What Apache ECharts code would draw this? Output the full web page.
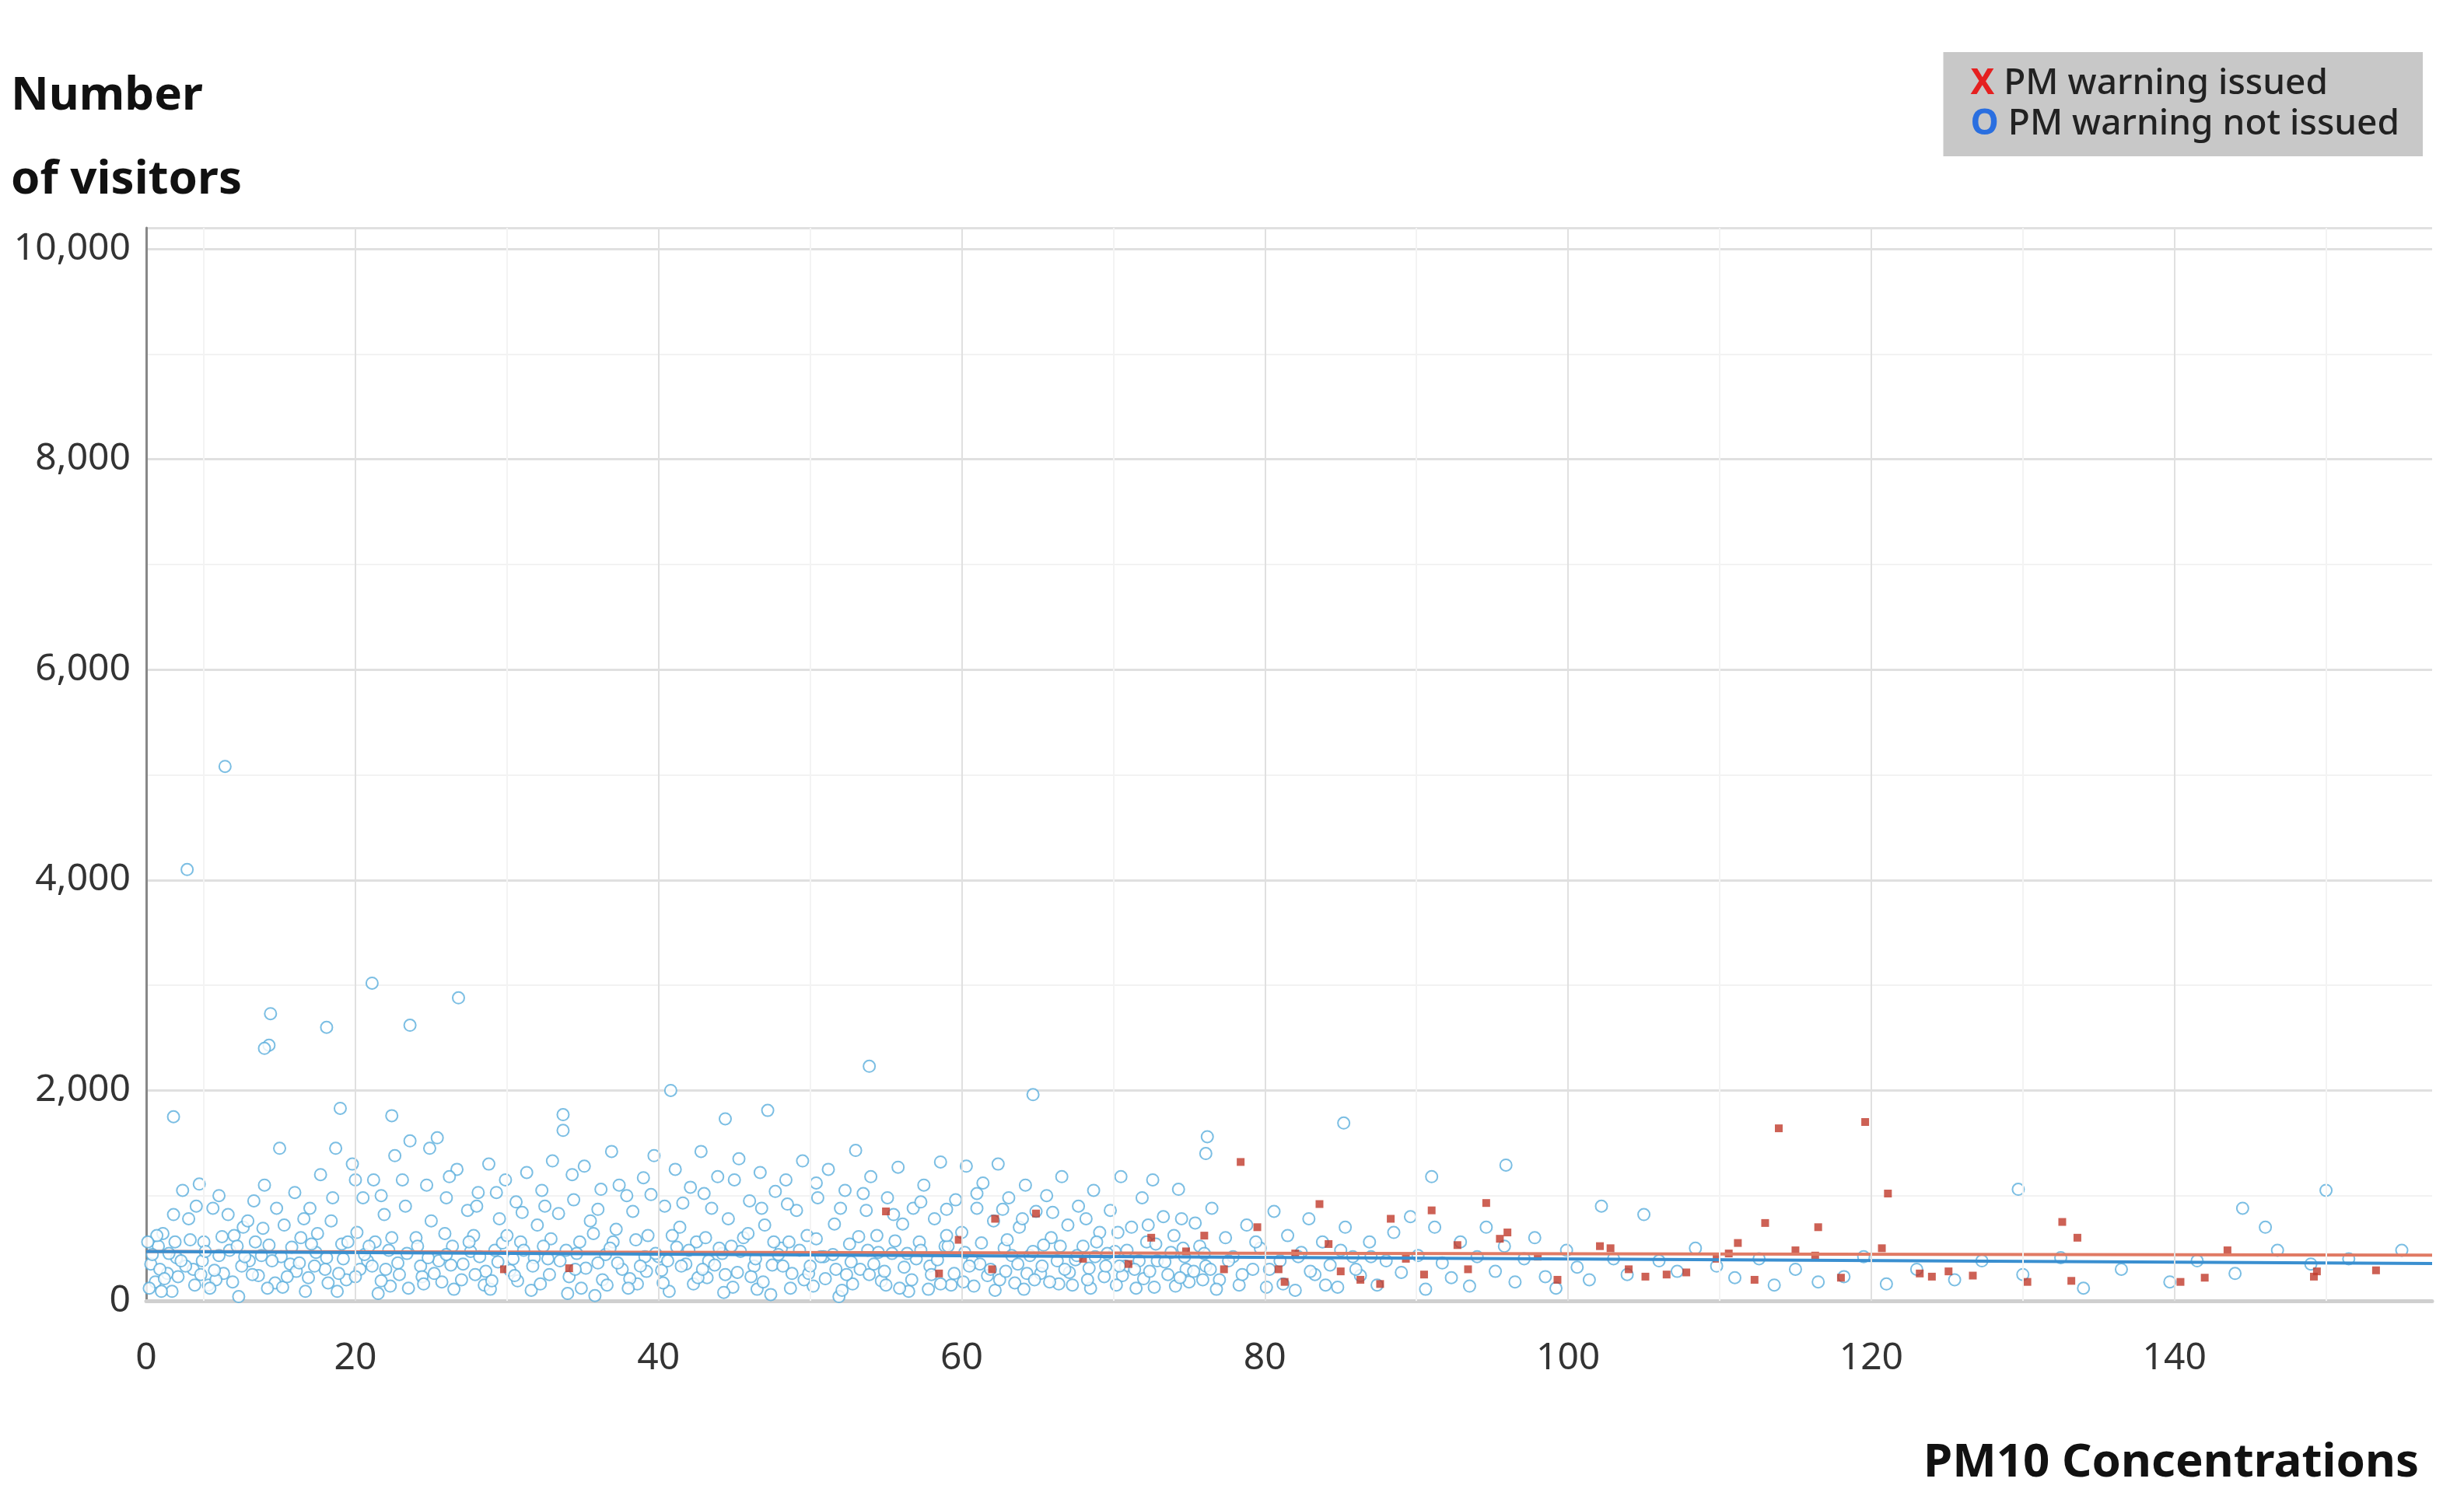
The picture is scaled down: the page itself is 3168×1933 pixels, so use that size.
<!DOCTYPE html>
<html>
<head>
<meta charset="utf-8">
<script src="https://cdn.jsdelivr.net/npm/echarts@6/dist/echarts.min.js"></script>
</head>
<body style="margin:0;background:#fff">
<div id="container" style="width:3168px;height:1933px"></div>
<script>
// PM10 concentration vs. number of visitors
const xTickLabels = [6.2, 20, 40, 60, 80, 100, 120, 140];
const majorGrid = [20, 40, 60, 80, 100, 120, 140];
const minorGrid = [10, 30, 50, 70, 90, 110, 130, 150];

// days without PM warning
const notIssued = [
  [11.4,5080],[8.9,4100],[14.4,2730],[14.3,2430],[14.0,2400],[18.1,2600],[21.1,3020],[23.6,2620],[26.8,2880],
  [8.0,1750],[19.0,1830],[22.4,1760],[33.7,1770],[40.8,2000],[44.4,1730],[47.2,1810],[53.9,2230],[64.7,1960],
  [85.2,1690],[76.2,1560],[76.1,1400],[91.0,1180],[95.9,1290],[129.7,1060],[150.0,1050],[144.5,880],[146.0,700],
  [6.5,350],[6.8,180],[7.0,520],[7.3,640],[7.6,260],[7.9,90],[8.2,410],[8.6,1050],[9.0,780],[9.3,300],[9.7,1110],
  [10.0,560],[10.3,150],[10.6,880],[11.0,430],[11.3,260],[11.6,820],[12.0,620],[12.3,40],[12.6,700],[13.0,380],
  [13.3,950],[13.6,240],[14.0,1100],[14.3,530],[14.7,170],[15.0,1450],[15.3,720],[15.7,350],[16.0,1030],[16.4,600],
  [16.7,90],[17.0,880],[17.4,460],[17.7,1200],[18.0,300],[18.4,760],[18.7,1450],[19.1,540],[19.4,200],[19.8,1300],
  [20.1,650],[20.5,980],[20.8,380],[21.2,1150],[21.5,70],[21.9,820],[22.2,480],[22.6,1380],[22.9,250],[23.3,900],
  [23.6,1520],[24.0,600],[24.3,330],[24.7,1100],[25.0,760],[25.4,1550],[25.7,180],[26.0,980],[26.4,520],[26.7,1250],
  [27.1,350],[27.4,860],[27.8,620],[28.1,1030],[28.5,150],[28.8,1300],[29.2,480],[29.5,780],[29.9,1150],[30.2,290],
  [30.6,940],[30.9,560],[31.3,1220],[31.6,100],[32.0,720],[32.3,1050],[32.7,400],[33.0,1330],[33.4,830],[33.7,1620],
  [34.1,230],[34.4,960],[34.8,560],[35.1,1280],[35.5,760],[35.8,50],[36.2,1060],[36.5,440],[36.9,1420],[37.2,680],
  [37.6,300],[37.9,1000],[38.3,850],[38.6,160],[39.0,1170],[39.3,620],[39.7,1380],[40.0,420],[40.4,900],[40.7,90],
  [41.1,1250],[41.4,700],[41.8,350],[42.1,1080],[42.5,560],[42.8,1420],[43.2,220],[43.5,880],[43.9,1180],[44.2,450],
  [44.6,780],[44.9,130],[45.3,1350],[45.6,600],[46.0,950],[46.3,330],[46.7,1220],[47.0,720],[47.4,60],[47.7,1040],
  [48.1,500],[48.4,1150],[48.8,260],[49.1,860],[49.5,1330],[49.8,620],[50.2,140],[50.5,980],[50.9,420],[51.2,1250],
  [51.6,730],[51.9,40],[52.3,1050],[52.6,540],[53.0,1430],[53.3,300],[53.7,860],[54.0,1180],[54.4,620],[54.7,190],
  [55.1,980],[55.4,450],[55.8,1270],[56.1,730],[56.5,90],[56.8,880],[57.2,560],[57.5,1100],[57.9,330],[58.2,780],
  [58.6,1320],[58.9,520],[59.3,150],[59.6,960],[60.0,650],[60.3,1280],[60.7,380],[61.0,880],[61.4,1120],[61.7,240],
  [62.1,760],[62.4,1300],[62.8,500],[63.1,980],[63.5,170],[63.8,700],[64.2,1100],[64.5,430],[64.9,850],[65.2,260],
  [65.6,1000],[65.9,600],[66.3,380],[66.6,1180],[67.0,720],[67.3,150],[67.7,900],[68.0,520],[68.4,310],[68.7,1050],
  [69.1,650],[69.4,230],[69.8,860],[70.1,470],[70.5,1180],[70.8,330],[71.2,700],[71.5,120],[71.9,980],[72.2,560],
  [72.6,1150],[72.9,380],[73.3,800],[73.6,250],[74.0,620],[74.3,1060],[74.7,420],[75.0,180],[75.4,740],[75.7,520],
  [76.1,330],[76.5,880],[77.0,200],[77.4,600],[77.9,420],[78.3,150],[78.8,720],[79.2,300],[79.7,500],[80.1,130],
  [80.6,850],[81.0,380],[81.5,620],[82.0,100],[82.4,460],[82.9,780],[83.3,250],[83.8,560],[84.3,340],[84.8,130],
  [85.3,700],[85.8,420],[86.3,240],[86.9,560],[87.4,150],[88.0,380],[88.5,650],[89.0,270],[89.6,800],[90.1,430],
  [90.6,110],[91.2,700],[91.7,360],[92.3,220],[92.9,560],[93.5,140],[94.0,420],[94.6,700],[95.2,280],[95.8,520],
  [96.5,180],[97.1,400],[97.8,600],[98.5,230],[99.2,120],[99.9,480],[100.6,320],[101.4,200],[102.2,900],[103.0,400],
  [103.9,250],[105.0,820],[106.0,380],[107.2,280],[108.4,500],[109.8,330],[111.0,220],[112.6,400],[113.6,150],
  [115.0,300],[116.5,180],[118.2,230],[119.5,420],[121.0,160],[123.0,300],[125.5,200],[127.3,380],[130.0,250],
  [132.5,410],[134.0,120],[136.5,300],[139.7,180],[141.5,380],[144.0,260],[146.8,480],[149.0,350],[151.5,400],[155.0,480],
  [6.4,120],[7.1,300],[7.7,450],[8.3,230],[9.1,580],[9.9,380],[10.8,200],[11.7,480],[12.5,330],[13.4,560],
  [14.2,120],[15.1,420],[16.1,280],[17.1,540],[18.2,170],[19.2,400],[20.3,300],[21.3,560],[22.3,140],[23.4,450],
  [24.4,230],[25.5,380],[26.5,110],[27.6,470],[28.6,280],[29.7,550],[30.7,190],[31.8,410],[32.8,250],[33.9,480],
  [34.9,120],[36.0,360],[37.0,560],[38.1,210],[39.1,420],[40.2,290],[41.2,510],[42.3,160],[43.3,380],[44.4,250],
  [45.4,470],[46.5,110],[47.5,340],[48.6,560],[49.6,200],[50.7,420],[51.7,300],[52.8,160],[53.8,480],[54.9,280],
  [55.9,120],[57.0,400],[58.0,250],[59.1,520],[60.1,180],[61.2,350],[62.2,100],[63.3,430],[64.3,260],[65.4,530],
  [66.4,160],[67.5,390],[68.5,120],[69.6,450],[70.6,240],[71.7,380],[72.7,130],[73.8,460],[74.8,300],[75.9,200],
  [6.9,620],[8.0,820],[9.5,900],[11.0,1000],[12.9,760],[14.8,880],[16.6,780],[18.5,980],[20.0,1150],[21.7,1000],
  [23.1,1150],[24.9,1450],[26.2,1180],[28.0,900],[29.3,1030],[31.0,840],[32.5,900],[34.3,1200],[36.0,870],[37.4,1100],
  [39.5,1010],[41.6,930],[43.0,1020],[45.0,1150],[46.8,880],[48.5,920],[50.4,1120],[52.0,880],[53.5,1020],[55.5,820],
  [57.3,940],[59.0,870],[61.0,1020],[62.7,870],[64.0,780],[66.0,840],[68.2,780],[70.3,650],[72.3,720],[74.5,780],
  // dense band near the bottom
  [6.6,440],[7.4,210],[8.1,560],[8.8,330],[9.4,150],[10.1,470],[10.7,290],[11.2,610],[11.9,180],[12.7,420],
  [13.2,250],[13.9,690],[14.5,380],[15.2,130],[15.8,510],[16.3,360],[16.9,220],[17.5,640],[18.1,410],[18.8,90],
  [19.5,560],[20.0,230],[20.6,440],[21.1,330],[21.7,190],[22.4,600],[22.8,360],[23.5,120],[24.1,520],[24.8,410],
  [25.2,260],[25.9,640],[26.3,340],[27.0,200],[27.5,560],[28.2,420],[28.9,110],[29.4,370],[30.0,620],[30.5,240],
  [31.1,480],[31.7,330],[32.2,160],[32.9,590],[33.5,380],[34.0,70],[34.6,450],[35.2,310],[35.7,640],[36.3,200],
  [36.8,500],[37.3,360],[38.0,120],[38.5,580],[39.2,280],[39.8,450],[40.3,170],[40.9,620],[41.5,330],[42.0,480],
  [42.6,220],[43.1,600],[43.7,340],[44.3,80],[44.8,520],[45.2,270],[45.9,640],[46.4,400],[46.9,180],[47.6,560],
  [48.2,330],[48.7,120],[49.3,480],[49.9,260],[50.4,590],[51.0,210],[51.5,440],[52.1,100],[52.7,370],[53.2,610],
  [53.9,250],[54.5,460],[55.0,150],[55.6,570],[56.2,320],[56.7,200],[57.3,480],[57.8,110],[58.4,390],[59.0,620],
  [59.5,260],[60.2,460],[60.8,140],[61.3,550],[61.9,300],[62.5,200],[63.0,580],[63.7,350],[64.1,110],[64.7,470],
  [65.3,330],[65.8,180],[66.5,520],[67.1,270],[67.6,430],[68.3,200],[68.9,560],[69.5,330],[70.2,150],[70.9,480],
  [71.4,300],[72.0,210],[72.8,540],[73.4,370],[74.1,140],[74.6,500],[75.3,280],[76.0,450],[76.8,110],[77.6,380],
  [78.5,250],[79.4,560],[80.3,300],[81.2,160],[82.2,420],[83.0,280],[84.0,150],[85.0,480],[86.0,300],[87.0,420],
  [6.3,560],[7.2,90],[8.5,380],[9.8,250],[10.4,120],[12.2,520],[13.8,430],[15.5,230],[17.3,330],[18.9,260],
  [20.9,520],[22.0,300],[24.5,160],[26.0,440],[27.9,250],[29.0,190],[30.4,400],[32.4,520],[34.5,300],[36.6,150],
  [38.8,330],[40.6,380],[42.9,300],[44.0,500],[46.1,230],[47.9,440],[50.0,330],[52.4,250],[54.2,350],[56.4,450],
  [58.6,160],[60.5,330],[62.9,280],[64.8,200],[66.8,300],[68.8,420],[70.4,330],[72.4,280],[74.4,220],[76.4,300]
];

// days with PM warning issued
const issued = [
  [113.9,1640],[119.6,1700],[121.1,1020],[78.4,1320],[83.6,920],[113.0,740],[116.5,700],[132.6,750],[133.6,600],
  [120.7,500],[143.5,480],[130.3,180],[140.4,180],[153.3,290],[149.4,280],[149.2,230],[94.6,930],[91.0,860],
  [88.3,780],[95.5,590],[102.1,520],[110.6,450],[115.0,480],[55.0,850],[58.5,260],[62.2,780],[64.9,830],[62.0,300],
  [59.8,580],[72.5,600],[76.0,620],[79.5,700],[80.9,300],[82.0,450],[85.0,280],[86.3,200],[87.6,160],[89.3,400],
  [90.5,250],[92.7,530],[93.4,300],[96.0,650],[99.3,200],[102.8,500],[104.0,300],[106.5,250],[107.8,270],[109.8,400],
  [111.2,550],[112.3,200],[116.3,430],[118.0,220],[123.2,260],[124.0,230],[125.1,280],[133.2,190],[29.8,300],[34.1,310],
  [68.0,400],[71.0,350],[74.8,470],[77.3,300],[81.3,180],[84.2,540],[98.0,420],[105.1,230],[126.7,240],[142.0,220]
];

const redTrend = [[6.2,470],[157,435]];
const blueTrend = [[6.2,470],[157,355]];

const chart = echarts.init(document.getElementById('container'));
const lineColor = '#e0e0e0';

chart.setOption({
  animation: false,
  textStyle: { fontFamily: 'Noto Sans' },
  grid: { left: 188, right: 41, top: 293, bottom: 260 },
  legend: {
    right: 53, top: 67,
    orient: 'vertical',
    icon: 'none',
    itemWidth: 0, itemGap: 6,
    backgroundColor: '#c8c8c8',
    padding: [18, 30, 18, 30],
    data: ['PM warning issued', 'PM warning not issued'],
    formatter: function (name) {
      return name === 'PM warning issued' ? '{r|X} ' + name : '{b|O} ' + name;
    },
    textStyle: {
      fontSize: 46, color: '#222', fontFamily: 'Noto Sans', fontWeight: 500,
      rich: {
        r: { color: '#e52020', fontSize: 46, fontWeight: 'bold' },
        b: { color: '#2a6fe0', fontSize: 46, fontWeight: 'bold' }
      }
    }
  },
  graphic: [
    { type: 'text', left: 14, top: 70, style: { text: 'Number\nof visitors', font: 'bold 60px "Noto Sans"', lineHeight: 108, fill: '#111' } },
    { type: 'text', right: 58, top: 1852, style: { text: 'PM10 Concentrations', font: 'bold 60px "Noto Sans"', fill: '#111' } }
  ],
  xAxis: {
    type: 'value', min: 6.2, max: 157,
    axisLine: { show: true, onZero: false, lineStyle: { color: '#cfcfcf', width: 5 } },
    axisTick: { show: false },
    splitLine: { show: false },
    axisLabel: {
      customValues: xTickLabels,
      fontSize: 48, color: '#333', margin: 50,
      formatter: function (v) { return v < 10 ? '0' : String(v); }
    }
  },
  yAxis: {
    type: 'value', min: 0, max: 10200, interval: 2000,
    axisLine: { show: true, lineStyle: { color: '#888', width: 3 } },
    axisTick: { show: false },
    axisLabel: {
      fontSize: 48, color: '#333', margin: 20, showMaxLabel: false,
      formatter: function (v) { return v.toLocaleString('en-US'); }
    },
    splitLine: { lineStyle: { color: lineColor, width: 3 } },
    minorTick: { show: false, splitNumber: 2 },
    minorSplitLine: { show: true, lineStyle: { color: '#f2f2f2', width: 2 } }
  },
  series: [
    {
      name: 'grid', type: 'scatter', data: [], silent: true,
      markLine: {
        silent: true, symbol: 'none', label: { show: false },
        data: majorGrid.map(v => ({ xAxis: v, lineStyle: { color: lineColor, width: 2, type: 'solid' } }))
          .concat(minorGrid.map(v => ({ xAxis: v, lineStyle: { color: '#f3f3f3', width: 2, type: 'solid' } })))
      }
    },
    {
      name: 'PM warning not issued', type: 'scatter', data: notIssued,
      symbol: 'emptyCircle', symbolSize: 15,
      itemStyle: { color: '#5aaedc', borderColor: '#5aaedc', borderWidth: 3 }
    },
    {
      name: 'PM warning issued', type: 'scatter', data: issued,
      symbol: 'rect', symbolSize: 10,
      itemStyle: { color: '#c0392b' }
    },
    {
      name: 'red trend', type: 'line', data: redTrend, symbol: 'none',
      lineStyle: { color: '#e07a64', width: 4 }
    },
    {
      name: 'blue trend', type: 'line', data: blueTrend, symbol: 'none',
      lineStyle: { color: '#3a8fd0', width: 4 }
    }
  ]
});
</script>
</body>
</html>
